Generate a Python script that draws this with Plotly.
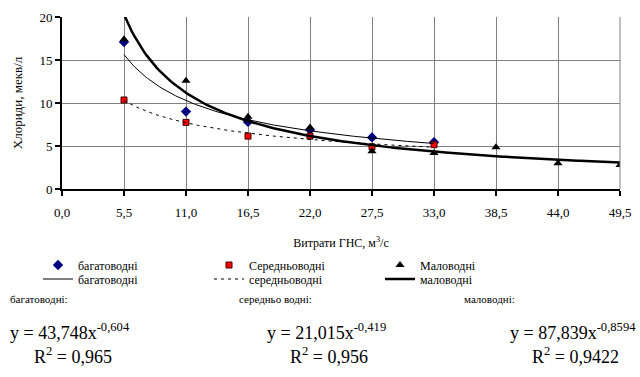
import numpy as np
import plotly.graph_objects as go

# ---- data ----
x_bag = [5.5, 11.0, 16.5, 22.0, 27.5, 33.0]
y_bag = [17.1, 9.0, 7.8, 6.9, 6.0, 5.45]

x_ser = [5.5, 11.0, 16.5, 22.0, 27.5, 33.0]
y_ser = [10.35, 7.75, 6.15, 6.15, 4.9, 5.15]

x_mal = [5.5, 11.0, 16.5, 22.0, 27.5, 33.0, 38.5, 44.0, 49.5]
y_mal = [17.4, 12.6, 8.4, 7.15, 4.4, 4.2, 4.85, 3.0, 2.8]

# power trend coefficients shown on the chart: y = a * x^b, R^2
trend_bag = (43.748, -0.604, 0.965)
trend_ser = (21.015, -0.419, 0.956)
trend_mal = (87.839, -0.8594, 0.9422)

x_ticks = [0, 5.5, 11, 16.5, 22, 27.5, 33, 38.5, 44, 49.5]
y_ticks = [0, 5, 10, 15, 20]

FONT = "Liberation Serif, Times New Roman, serif"


def trend(coef, x0, x1):
    xs = np.linspace(x0, x1, 200)
    return xs, coef[0] * xs ** coef[1]


fig = go.Figure()
fig.add_trace(go.Scatter(x=x_bag, y=y_bag, mode="markers", name="багатоводні", legend="legend",
                         marker=dict(symbol="diamond", size=8, color="#000080")))
fig.add_trace(go.Scatter(x=x_ser, y=y_ser, mode="markers", name="Середньоводні", legend="legend",
                         marker=dict(symbol="square", size=6, color="#FF0000",
                                     line=dict(color="#400000", width=1))))
fig.add_trace(go.Scatter(x=x_mal, y=y_mal, mode="markers", name="Маловодні", legend="legend",
                         marker=dict(symbol="triangle-up", size=8, color="#000000")))

tx, ty = trend(trend_bag, min(x_bag), max(x_bag))
fig.add_trace(go.Scatter(x=tx, y=ty, mode="lines", name="багатоводні", legend="legend2",
                         line=dict(color="black", width=1)))
tx, ty = trend(trend_ser, min(x_ser), max(x_ser))
fig.add_trace(go.Scatter(x=tx, y=ty, mode="lines", name="середньоводні", legend="legend2",
                         line=dict(color="black", width=1, dash="3px,4px")))
tx, ty = trend(trend_mal, min(x_mal), max(x_mal))
fig.add_trace(go.Scatter(x=tx, y=ty, mode="lines", name="маловодні", legend="legend2",
                         line=dict(color="black", width=2.5)))

L, R, T, B = 62, 620, 17, 189


def px(x):
    return (x - L) / (R - L)


def py(y):
    return (B - y) / (B - T)


def fmt(v, d):
    return f"{v:.{d}f}".replace(".", ",")


ann = []
labels = ["багатоводні:", "середньо водні:", "маловодні:"]
lab_x = [8, 237, 462]
eq_x = [8, 265, 508]
r_x = [32, 288, 530]
coefs = [trend_bag, trend_ser, trend_mal]
decs = [(3, 3, 3), (3, 3, 3), (3, 4, 4)]
for i in range(3):
    a, b, r2 = coefs[i]
    ann.append(dict(x=px(lab_x[i]), y=py(299), xref="paper", yref="paper",
                    text=labels[i], showarrow=False, xanchor="left", yanchor="middle",
                    font=dict(family=FONT, size=11, color="black")))
    ann.append(dict(x=px(eq_x[i]), y=py(331), xref="paper", yref="paper",
                    text=f"y = {fmt(a, decs[i][0])}x<sup>{fmt(b, decs[i][1])}</sup>",
                    showarrow=False, xanchor="left", yanchor="middle",
                    font=dict(family=FONT, size=18, color="black")))
    ann.append(dict(x=px(r_x[i]), y=py(355), xref="paper", yref="paper",
                    text=f"R<sup>2</sup> = {fmt(r2, decs[i][2])}",
                    showarrow=False, xanchor="left", yanchor="middle",
                    font=dict(family=FONT, size=18, color="black")))

leg_common = dict(orientation="h", xanchor="left", yanchor="middle",
                  xref="paper", yref="paper", entrywidth=126, entrywidthmode="pixels",
                  font=dict(family=FONT, size=12, color="black"),
                  bgcolor="rgba(0,0,0,0)", itemwidth=30, borderwidth=0)

fig.update_layout(
    width=640, height=377,
    margin=dict(l=L, r=640 - R, t=T, b=377 - B, autoexpand=False),
    paper_bgcolor="white", plot_bgcolor="white",
    separators=", ",
    font=dict(family=FONT, size=12, color="black"),
    showlegend=True,
    legend=dict(x=px(38), y=py(265), **leg_common),
    legend2=dict(x=px(38), y=py(279), **leg_common),
    annotations=ann,
    xaxis=dict(range=[0, 49.5], tickvals=x_ticks, tickformat=".1f",
               showgrid=True, gridcolor="#808080", gridwidth=1,
               showline=True, linecolor="black", linewidth=2,
               ticks="outside", ticklen=5, tickwidth=2, tickcolor="black",
               ticklabelstandoff=5,
               zeroline=False, mirror=False,
               tickfont=dict(family=FONT, size=13),
               title=dict(text="Витрати ГНС, м<sup>3</sup>/с", standoff=20,
                          font=dict(family=FONT, size=12))),
    yaxis=dict(range=[0, 20], tickvals=y_ticks,
               showgrid=True, gridcolor="#808080", gridwidth=1,
               showline=True, linecolor="black", linewidth=2,
               ticks="outside", ticklen=5, tickwidth=2, tickcolor="black",
               zeroline=False,
               tickfont=dict(family=FONT, size=13),
               title=dict(text="Хлориди, мекв/л", standoff=14,
                          font=dict(family=FONT, size=13))),
    shapes=[dict(type="line", xref="paper", yref="paper", x0=1, x1=1, y0=0, y1=1,
                 line=dict(color="#808080", width=1))],
)

fig.write_html("out.html", config={"displayModeBar": False},
               post_script="document.body.style.margin='0';")
